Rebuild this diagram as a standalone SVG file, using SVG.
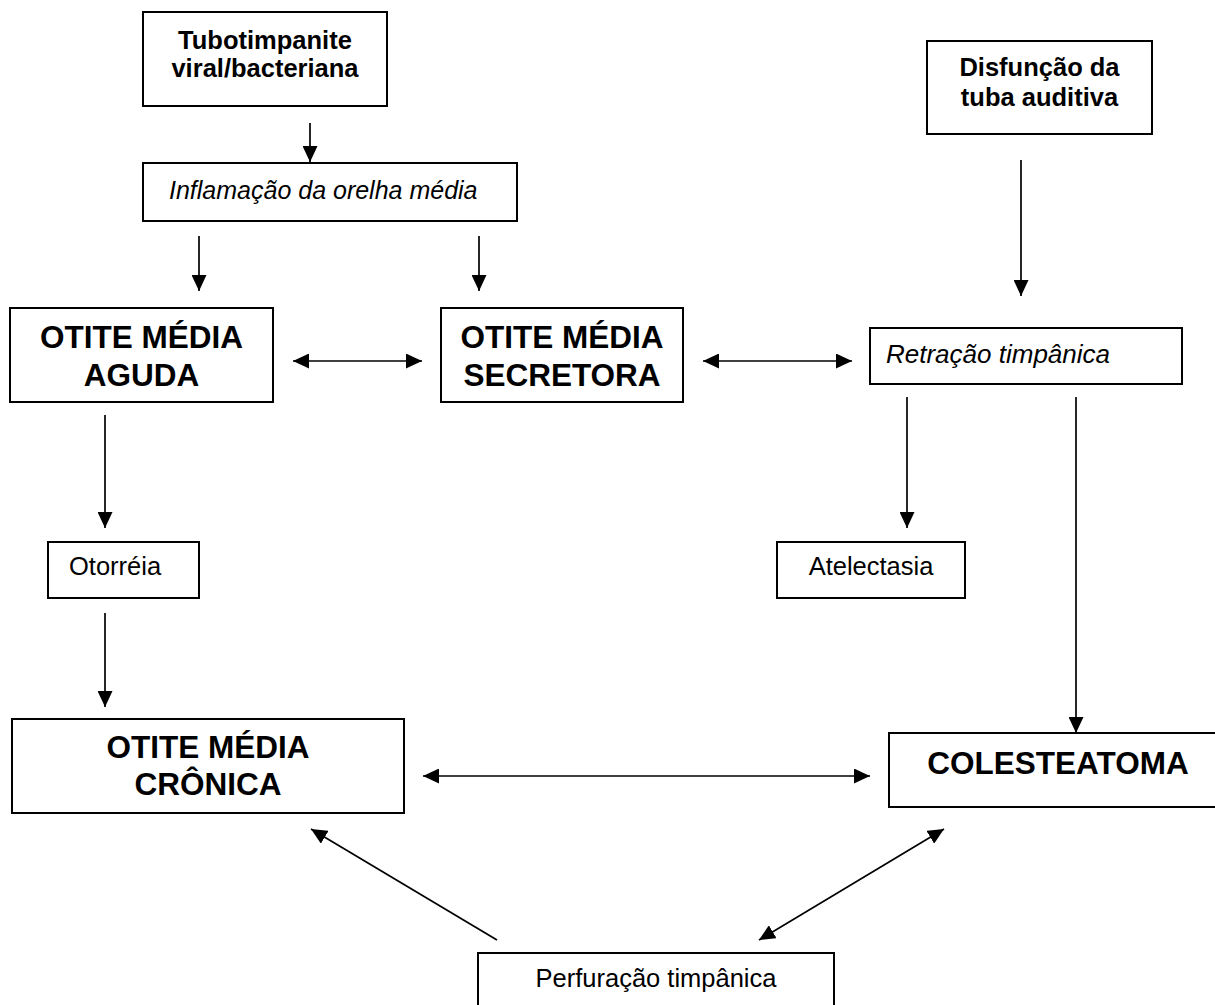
<svg xmlns="http://www.w3.org/2000/svg" width="1215" height="1005" viewBox="0 0 1215 1005">
<style>
.box{fill:#fff;stroke:#000;stroke-width:2}
.t{font-family:"Liberation Sans",Arial,sans-serif;fill:#000}
.b{font-weight:bold;font-size:25.5px}
.big{font-weight:bold;font-size:31.5px}
.i{font-style:italic;font-size:25px}
.r{font-size:25.5px}
.c{text-anchor:middle}
.ln{stroke:#000;stroke-width:1.7;fill:none}
</style>
<defs>
<marker id="ah" markerUnits="userSpaceOnUse" markerWidth="16" markerHeight="15" refX="16" refY="7.5" orient="auto-start-reverse" viewBox="0 0 16 15">
<path d="M0,0 L16,7.5 L0,15 z" fill="#000"/>
</marker>
</defs>
<rect width="1215" height="1005" fill="#fff"/>
<g id="connectors">
<line class="ln" x1="310" y1="123" x2="310" y2="162" marker-end="url(#ah)"/>
<line class="ln" x1="199" y1="236" x2="199" y2="291" marker-end="url(#ah)"/>
<line class="ln" x1="479" y1="236" x2="479" y2="291" marker-end="url(#ah)"/>
<line class="ln" x1="1021" y1="160" x2="1021" y2="296" marker-end="url(#ah)"/>
<line class="ln" x1="293" y1="361" x2="422" y2="361" marker-start="url(#ah)" marker-end="url(#ah)"/>
<line class="ln" x1="703" y1="361" x2="852" y2="361" marker-start="url(#ah)" marker-end="url(#ah)"/>
<line class="ln" x1="105" y1="415" x2="105" y2="528" marker-end="url(#ah)"/>
<line class="ln" x1="105" y1="613" x2="105" y2="707" marker-end="url(#ah)"/>
<line class="ln" x1="907" y1="397" x2="907" y2="528" marker-end="url(#ah)"/>
<line class="ln" x1="1076" y1="397" x2="1076" y2="733" marker-end="url(#ah)"/>
<line class="ln" x1="423" y1="776" x2="870" y2="776" marker-start="url(#ah)" marker-end="url(#ah)"/>
<line class="ln" x1="497" y1="940" x2="311" y2="829" marker-end="url(#ah)"/>
<line class="ln" x1="759" y1="940" x2="944" y2="829" marker-start="url(#ah)" marker-end="url(#ah)"/>
</g>
<g id="tubotimpanite">
<rect class="box" x="143" y="12" width="244" height="94"/>
<text class="t b c" x="265" y="49">Tubotimpanite</text>
<text class="t b c" x="265" y="77">viral/bacteriana</text>
</g>
<g id="inflamacao">
<rect class="box" x="143" y="163" width="374" height="58"/>
<text class="t i" x="169" y="199">Inflamação da orelha média</text>
</g>
<g id="disfuncao">
<rect class="box" x="927" y="41" width="225" height="93"/>
<text class="t b c" x="1039.5" y="76">Disfunção da</text>
<text class="t b c" x="1039.5" y="106">tuba auditiva</text>
</g>
<g id="oma">
<rect class="box" x="10" y="308" width="263" height="94"/>
<text class="t big c" x="141.5" y="348">OTITE MÉDIA</text>
<text class="t big c" x="141.5" y="386">AGUDA</text>
</g>
<g id="oms">
<rect class="box" x="441" y="308" width="242" height="94"/>
<text class="t big c" x="562" y="348">OTITE MÉDIA</text>
<text class="t big c" x="562" y="386">SECRETORA</text>
</g>
<g id="retracao">
<rect class="box" x="870" y="328" width="312" height="56"/>
<text class="t i" x="886" y="363" style="font-size:26px">Retração timpânica</text>
</g>
<g id="otorreia">
<rect class="box" x="48" y="542" width="151" height="56"/>
<text class="t r" x="69" y="575">Otorréia</text>
</g>
<g id="atelectasia">
<rect class="box" x="777" y="542" width="188" height="56"/>
<text class="t r c" x="871" y="575">Atelectasia</text>
</g>
<g id="omc">
<rect class="box" x="12" y="719" width="392" height="94"/>
<text class="t big c" x="208" y="758">OTITE MÉDIA</text>
<text class="t big c" x="208" y="795">CRÔNICA</text>
</g>
<g id="colesteatoma">
<rect class="box" x="889" y="733" width="340" height="74"/>
<text class="t big c" x="1058" y="774">COLESTEATOMA</text>
</g>
<g id="perfuracao">
<rect class="box" x="478" y="953" width="356" height="70"/>
<text class="t r c" x="656" y="987">Perfuração timpânica</text>
</g>
</svg>
